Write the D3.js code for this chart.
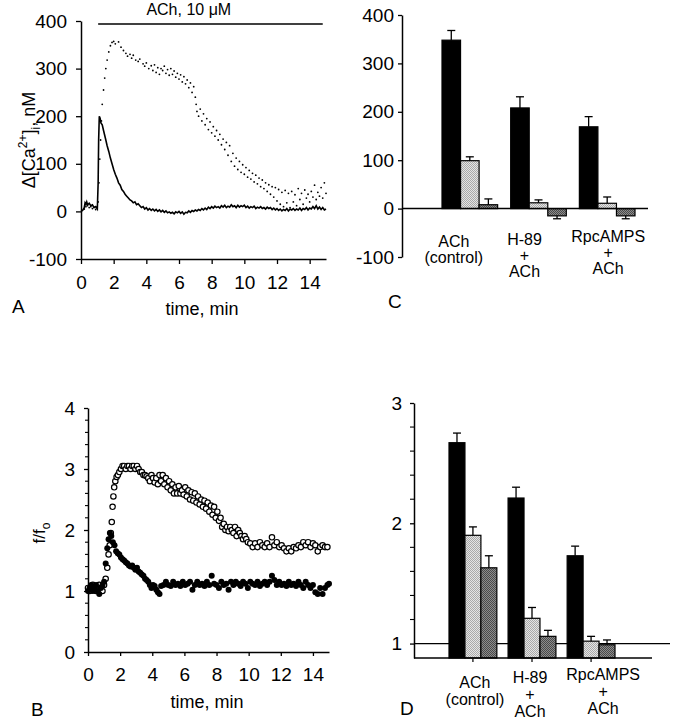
<!DOCTYPE html>
<html>
<head>
<meta charset="utf-8">
<script src="https://cdn.jsdelivr.net/npm/d3@7"></script>
<style>
  body { margin: 0; background: #fff; }
  svg { font-family: "Liberation Sans", Arial, sans-serif; }
</style>
</head>
<body>
<svg id="fig" width="673" height="720"></svg>
<script>
// ---- data ----

// panel A: delta [Ca2+]i in nM vs time (min)
var aSolid = [
  [0,0],[0.1,2],[0.2,8],[0.25,18],[0.3,15],[0.35,20],[0.4,14],[0.5,17],[0.6,12],[0.7,14],[0.8,8],[0.9,10],[1.0,5],
  [1.05,60],[1.08,150],[1.12,200],[1.17,196],[1.22,186],[1.3,182],[1.38,170],[1.45,160],[1.52,150],[1.6,138],
  [1.7,126],[1.8,112],[1.9,100],[2.0,88],[2.1,78],[2.2,70],[2.3,60],[2.4,55],[2.5,46],[2.6,42],[2.7,36],[2.8,32],
  [2.9,28],[3.0,24],[3.1,22],[3.2,18],[3.3,20],[3.4,14],[3.5,16],[3.6,12],[3.7,8],[3.8,10],[3.9,5],[4.0,8],
  [4.1,3],[4.2,6],[4.3,2],[4.4,5],[4.5,1],[4.6,4],[4.7,0],[4.8,3],[4.9,-1],[5.0,2],[5.1,-2],[5.2,1],[5.3,-3],
  [5.4,-1],[5.5,-4],[5.6,-2],[5.7,-5],[5.8,-1],[5.9,-3],[6.0,0],[6.1,-4],[6.2,-1],[6.3,-6],[6.4,-2],[6.5,-3],
  [6.6,1],[6.7,-2],[6.8,2],[6.9,0],[7.0,3],[7.1,1],[7.2,4],[7.3,2],[7.4,6],[7.5,3],[7.6,7],[7.7,4],[7.8,9],
  [7.9,6],[8.0,10],[8.1,7],[8.2,11],[8.3,8],[8.4,10],[8.5,7],[8.6,12],[8.7,9],[8.8,13],[8.9,8],[9.0,11],[9.1,9],
  [9.2,14],[9.3,10],[9.4,12],[9.5,8],[9.6,13],[9.7,9],[9.8,12],[9.9,10],[10.0,13],[10.1,8],[10.2,11],[10.3,7],
  [10.4,10],[10.5,8],[10.6,11],[10.7,6],[10.8,9],[10.9,7],[11.0,10],[11.1,6],[11.2,8],[11.3,5],[11.4,9],[11.5,6],
  [11.6,8],[11.7,4],[11.8,7],[11.9,3],[12.0,6],[12.1,2],[12.2,5],[12.3,1],[12.4,4],[12.5,2],[12.6,6],[12.7,1],
  [12.8,5],[12.9,3],[13.0,6],[13.1,2],[13.2,5],[13.3,3],[13.4,7],[13.5,2],[13.6,6],[13.7,4],[13.8,8],[13.9,3],
  [14.0,7],[14.1,5],[14.2,10],[14.3,6],[14.4,12],[14.5,5],[14.6,9],[14.7,4],[14.8,8],[14.9,3],[15.0,5]
];
var aDotted = [
  [0.2,5],[0.3,10],[0.4,12],[0.5,8],[0.6,10],[0.7,6],[0.8,9],[0.9,4],
  [1.05,20],[1.1,60],[1.15,110],[1.2,150],[1.25,190],[1.3,225],[1.38,255],[1.45,280],[1.52,300],[1.6,318],
  [1.7,335],[1.8,348],[1.9,355],[2.0,357],[2.1,352],[2.3,356],[2.45,345],[2.6,338],[2.75,332],[2.85,326],
  [3.0,330],[3.1,322],[3.2,328],[3.35,318],[3.5,315],[3.6,320],[3.8,310],[3.9,305],[4.0,312],[4.15,300],
  [4.3,306],[4.4,296],[4.5,308],[4.6,292],[4.7,302],[4.8,288],[4.9,300],[5.0,296],[5.1,305],[5.2,290],
  [5.3,298],[5.4,286],[5.5,300],[5.6,288],[5.7,295],[5.8,282],[5.9,290],[6.0,278],[6.1,287],[6.2,272],
  [6.3,283],[6.4,268],[6.5,276],[6.6,260],[6.7,270],[6.8,250],[6.9,262],[7.0,240],[7.05,225],[7.1,210],
  [7.2,200],[7.3,215],[7.4,190],[7.5,205],[7.6,182],[7.7,195],[7.8,172],[7.9,188],[8.0,165],[8.1,178],
  [8.2,158],[8.3,170],[8.4,150],[8.5,162],[8.6,140],[8.7,152],[8.8,130],[8.9,145],[9.0,118],[9.1,138],
  [9.2,105],[9.3,122],[9.4,95],[9.5,112],[9.6,88],[9.7,105],[9.8,82],[9.9,98],[10.0,78],[10.1,92],[10.2,72],
  [10.3,86],[10.4,68],[10.5,80],[10.6,62],[10.7,76],[10.8,58],[10.9,70],[11.0,52],[11.1,66],[11.2,48],
  [11.3,60],[11.4,42],[11.5,56],[11.6,36],[11.7,52],[11.8,30],[11.9,50],[12.0,22],[12.1,46],[12.2,15],
  [12.3,40],[12.4,10],[12.5,44],[12.6,18],[12.7,38],[12.8,8],[12.9,42],[13.0,20],[13.1,35],[13.2,12],
  [13.3,48],[13.4,25],[13.5,38],[13.6,15],[13.7,45],[13.8,28],[13.9,36],[14.0,20],[14.1,42],[14.2,30],
  [14.3,55],[14.4,25],[14.5,40],[14.6,32],[14.7,50],[14.8,28],[14.9,60],[15.0,38]
];
var aAchPeriod = [1.05, 14.8];
var aYTicks = [-100, 0, 100, 200, 300, 400];
var timeTicks = [0, 2, 4, 6, 8, 10, 12, 14];

// panel B: f/f0 vs time (min)
var bFilled = [
  [0,1.0],[0.1,1.05],[0.2,1.1],[0.3,1.0],[0.4,1.05],[0.5,1.1],[0.6,1.0],[0.7,0.95],[0.8,1.05],[0.9,1.1],
  [1.0,1.15],[1.1,1.45],[1.2,1.7],[1.28,1.85],[1.36,1.95],[1.45,1.9],[1.55,1.8],[1.65,1.75],[1.75,1.65],
  [1.85,1.62],[1.95,1.6],[2.05,1.55],[2.15,1.52],[2.25,1.5],[2.35,1.47],[2.45,1.45],[2.55,1.42],[2.65,1.4],
  [2.75,1.42],[2.85,1.38],[2.95,1.35],[3.05,1.38],[3.15,1.32],[3.25,1.3],[3.35,1.27],[3.45,1.25],[3.55,1.2],
  [3.65,1.18],[3.75,1.15],[3.85,1.1],[3.95,1.05],[4.05,1.1],[4.15,1.08],[4.25,1.02],[4.35,0.98],[4.45,0.95],
  [4.55,1.08],[4.7,1.1],[4.85,1.15],[5.0,1.1],[5.15,1.08],[5.3,1.15],[5.45,1.1],[5.6,1.12],[5.75,1.08],
  [5.9,1.15],[6.05,1.1],[6.2,1.12],[6.35,1.15],[6.5,1.02],[6.65,1.1],[6.8,1.15],[6.95,1.1],[7.1,1.12],
  [7.25,1.08],[7.4,1.15],[7.55,1.1],[7.7,1.25],[7.85,1.12],[8.0,1.1],[8.15,1.05],[8.3,1.15],[8.45,1.1],
  [8.6,1.12],[8.75,1.02],[8.9,1.15],[9.05,1.1],[9.2,1.15],[9.35,1.12],[9.5,1.08],[9.65,1.15],[9.8,1.12],
  [9.95,1.05],[10.1,1.15],[10.25,1.12],[10.4,1.1],[10.55,1.15],[10.7,1.08],[10.85,1.12],[11.0,1.15],
  [11.15,1.1],[11.3,1.15],[11.45,1.25],[11.6,1.18],[11.75,1.1],[11.9,1.15],[12.05,1.1],[12.2,1.12],
  [12.35,1.08],[12.5,1.15],[12.65,1.1],[12.8,1.12],[12.95,1.08],[13.1,1.15],[13.25,1.1],[13.4,1.05],
  [13.55,1.15],[13.7,1.1],[13.85,1.05],[14.0,1.1],[14.15,0.98],[14.3,0.95],[14.45,1.05],[14.6,0.95],
  [14.75,1.05],[14.9,1.1],[15.0,1.12]
];
var bOpen = [
  [0,1.05],[0.1,1.0],[0.2,1.05],[0.3,1.1],[0.4,1.05],[0.5,1.0],[0.6,1.05],[0.7,1.1],[0.8,1.05],[0.9,1.0],
  [1.0,1.1],[1.1,1.2],[1.2,1.38],[1.28,1.6],[1.35,1.75],[1.42,1.95],[1.48,2.13],[1.53,2.38],[1.58,2.55],
  [1.63,2.7],[1.7,2.8],[1.78,2.87],[1.86,2.9],[1.95,2.95],[2.05,3.0],[2.15,3.05],[2.25,3.05],[2.35,3.0],
  [2.45,3.05],[2.55,3.05],[2.65,3.0],[2.75,3.05],[2.85,3.05],[2.95,3.0],[3.05,3.05],[3.15,3.0],[3.25,2.95],
  [3.35,2.95],[3.45,2.9],[3.55,2.9],[3.65,2.88],[3.75,2.85],[3.85,2.8],[3.95,2.9],[4.05,2.85],[4.15,2.78],
  [4.25,2.85],[4.35,2.75],[4.45,2.9],[4.55,2.8],[4.65,2.9],[4.75,2.75],[4.85,2.85],[4.95,2.7],[5.05,2.8],
  [5.15,2.65],[5.25,2.75],[5.35,2.6],[5.45,2.7],[5.55,2.6],[5.65,2.72],[5.75,2.6],[5.85,2.65],[5.95,2.58],
  [6.05,2.7],[6.15,2.55],[6.25,2.65],[6.35,2.5],[6.45,2.62],[6.55,2.48],[6.65,2.6],[6.75,2.45],[6.85,2.55],
  [6.95,2.42],[7.05,2.5],[7.15,2.38],[7.25,2.48],[7.35,2.35],[7.45,2.45],[7.55,2.3],[7.65,2.4],[7.75,2.25],
  [7.85,2.38],[7.95,2.2],[8.05,2.3],[8.15,2.15],[8.25,2.2],[8.35,2.05],[8.45,2.1],[8.55,2.0],[8.65,2.05],
  [8.75,1.98],[8.85,2.05],[8.95,2.0],[9.05,1.95],[9.15,2.05],[9.25,1.9],[9.35,2.0],[9.45,1.95],[9.55,1.9],
  [9.65,1.85],[9.75,1.9],[9.85,1.85],[9.95,1.8],[10.1,1.78],[10.25,1.72],[10.4,1.78],[10.55,1.72],[10.7,1.8],
  [10.85,1.75],[11.0,1.72],[11.15,1.78],[11.3,1.72],[11.45,1.88],[11.6,1.75],[11.75,1.8],[11.9,1.72],
  [12.05,1.75],[12.2,1.7],[12.35,1.65],[12.5,1.7],[12.65,1.65],[12.8,1.72],[12.95,1.7],[13.1,1.75],
  [13.25,1.72],[13.4,1.8],[13.55,1.75],[13.7,1.8],[13.85,1.72],[14.0,1.78],[14.15,1.75],[14.3,1.65],
  [14.45,1.72],[14.6,1.75],[14.75,1.72],[14.9,1.72]
];
var bYTicks = [0, 1, 2, 3, 4];

// panels C and D: bar summaries, three bars per condition
var conditions = ["ACh (control)", "H-89 + ACh", "RpcAMPS + ACh"];
var conditionLines = [["ACh", "(control)"], ["H-89", "+", "ACh"], ["RpcAMPS", "+", "ACh"]];
var barSeries = ["peak", "mid", "late"];

var cPeak = [348, 208, 169];
var cPeakErr = [20, 23, 21];
var cMid = [99, 12, 11];
var cMidErr = [8, 6, 13];
var cLate = [8, -15, -15];
var cLateErr = [12, 6, 6];
var cYTicks = [-100, 0, 100, 200, 300, 400];

var dPeak = [2.67, 2.21, 1.73];
var dPeakErr = [0.08, 0.09, 0.08];
var dMid = [1.90, 1.21, 1.02];
var dMidErr = [0.07, 0.09, 0.04];
var dLate = [1.63, 1.06, 0.99];
var dLateErr = [0.10, 0.05, 0.04];
var dYTicks = [1, 2, 3];

// ---- drawing ----
var FONT = '"Liberation Sans", Arial, sans-serif';
var svg = d3.select("#fig");
var defs = svg.append("defs");
var intFmt = function(d) { return String(d); };   // plain hyphen minus, no decimals

// stippled fills for the grey bars
function stipple(id, a, b) {
  var p = defs.append("pattern")
      .attr("id", id)
      .attr("width", 2).attr("height", 2)
      .attr("patternUnits", "userSpaceOnUse");
  p.append("rect").attr("width", 2).attr("height", 2).attr("fill", a);
  p.append("rect").attr("width", 1).attr("height", 1).attr("fill", b);
  p.append("rect").attr("x", 1).attr("y", 1).attr("width", 1).attr("height", 1).attr("fill", b);
}
stipple("lightDots", "#e4e4e4", "#a9a9a9");
stipple("darkDots", "#8c8c8c", "#4a4a4a");
var seriesFill = { peak: "#000", mid: "url(#lightDots)", late: "url(#darkDots)" };

function styleAxis(g, size) {
  g.attr("font-size", size).attr("font-family", FONT);
  g.select(".domain").attr("stroke", "#000").attr("stroke-width", 1.5);
  g.selectAll(".tick line").attr("stroke", "#000").attr("stroke-width", 1.3);
  g.selectAll(".tick text").attr("fill", "#000");
}

function label(x, y, txt, size, anchor) {
  return svg.append("text")
      .attr("x", x).attr("y", y)
      .attr("text-anchor", anchor || "start")
      .attr("font-size", size)
      .attr("font-family", FONT)
      .text(txt);
}

function minorTicks(scale, x, values, len) {
  svg.append("g").selectAll("line")
    .data(values)
    .enter().append("line")
    .attr("x1", x - len).attr("x2", x)
    .attr("y1", function(d) { return scale(d); })
    .attr("y2", function(d) { return scale(d); })
    .attr("stroke", "#000").attr("stroke-width", 1.1);
}

// ===== Panel A =====
var xA = d3.scaleLinear().domain([0, 15]).range([81, 326]);
var yA = d3.scaleLinear().domain([-100, 400]).range([259, 21]);

svg.append("g")
    .attr("transform", "translate(0," + yA(-100) + ")")
    .call(d3.axisBottom(xA).tickValues(timeTicks).tickFormat(intFmt).tickSize(5).tickPadding(12).tickSizeOuter(0))
    .call(styleAxis, 19);
svg.append("g")
    .attr("transform", "translate(" + xA(0) + ",0)")
    .call(d3.axisLeft(yA).tickValues(aYTicks).tickFormat(intFmt).tickSize(5).tickPadding(9).tickSizeOuter(0))
    .call(styleAxis, 19);

// ACh application bar
svg.append("line")
    .attr("x1", xA(aAchPeriod[0])).attr("x2", xA(aAchPeriod[1]))
    .attr("y1", 24).attr("y2", 24)
    .attr("stroke", "#000").attr("stroke-width", 1.5);
label(xA(6.6), 15, "ACh, 10 \u03BCM", 16, "middle");

svg.append("g").selectAll("circle")
    .data(aDotted)
    .enter().append("circle")
    .attr("cx", function(d) { return xA(d[0]); })
    .attr("cy", function(d) { return yA(d[1]); })
    .attr("r", 0.9)
    .attr("fill", "#000");

svg.append("path")
    .datum(aSolid)
    .attr("fill", "none")
    .attr("stroke", "#000")
    .attr("stroke-width", 1.6)
    .attr("d", d3.line().x(function(d) { return xA(d[0]); }).y(function(d) { return yA(d[1]); }));

var aLabel = svg.append("text")
    .attr("transform", "translate(35,140) rotate(-90)")
    .attr("text-anchor", "middle")
    .attr("font-family", FONT)
    .attr("font-size", 18);
aLabel.append("tspan").text("\u0394[Ca");
aLabel.append("tspan").attr("dy", -8).attr("font-size", 12).text("2+");
aLabel.append("tspan").attr("dy", 8).text("]");
aLabel.append("tspan").attr("dy", 5).attr("font-size", 12).text("i");
aLabel.append("tspan").attr("dy", -5).text(", nM");

label(202, 315, "time, min", 18, "middle");
label(12, 313, "A", 19);

// ===== Panel B =====
var xB = d3.scaleLinear().domain([0, 15]).range([88, 329]);
var yB = d3.scaleLinear().domain([0, 4]).range([652, 408]);

minorTicks(yB, xB(0), [0.2,0.4,0.6,0.8,1.2,1.4,1.6,1.8,2.2,2.4,2.6,2.8,3.2,3.4,3.6,3.8], 3);
svg.append("g")
    .attr("transform", "translate(0," + yB(0) + ")")
    .call(d3.axisBottom(xB).tickValues(timeTicks).tickFormat(intFmt).tickSize(4).tickPadding(12).tickSizeOuter(0))
    .call(styleAxis, 19);
svg.append("g")
    .attr("transform", "translate(" + xB(0) + ",0)")
    .call(d3.axisLeft(yB).tickValues(bYTicks).tickFormat(intFmt).tickSize(4).tickPadding(9).tickSizeOuter(0))
    .call(styleAxis, 19);

svg.append("g").selectAll("circle")
    .data(bOpen)
    .enter().append("circle")
    .attr("cx", function(d) { return xB(d[0]); })
    .attr("cy", function(d) { return yB(d[1]); })
    .attr("r", 2.7)
    .attr("fill", "#fff")
    .attr("stroke", "#000")
    .attr("stroke-width", 1.2);
svg.append("g").selectAll("circle")
    .data(bFilled)
    .enter().append("circle")
    .attr("cx", function(d) { return xB(d[0]); })
    .attr("cy", function(d) { return yB(d[1]); })
    .attr("r", 3)
    .attr("fill", "#000");

var bLabel = svg.append("text")
    .attr("transform", "translate(45,533) rotate(-90)")
    .attr("text-anchor", "middle")
    .attr("font-family", FONT)
    .attr("font-size", 17);
bLabel.append("tspan").text("f/f");
bLabel.append("tspan").attr("dy", 5).attr("font-size", 12).text("o");

label(207, 708, "time, min", 18, "middle");
label(31, 716, "B", 19);

// ===== bar panels =====
function barPanel(opt) {
  var x0 = d3.scaleBand().domain(conditions).range(opt.xRange).paddingInner(0.19).paddingOuter(0);
  var x1 = d3.scaleBand().domain(barSeries).range([0, x0.bandwidth()]);
  var y = opt.y;

  var rows = [];
  conditions.forEach(function(c, i) {
    barSeries.forEach(function(s, j) {
      rows.push({ cond: c, series: s, value: opt.values[j][i], err: opt.errs[j][i] });
    });
  });

  svg.append("g").selectAll("rect")
    .data(rows)
    .enter().append("rect")
    .attr("x", function(d) { return x0(d.cond) + x1(d.series); })
    .attr("width", x1.bandwidth())
    .attr("y", function(d) { return Math.min(y(d.value), y(opt.base)); })
    .attr("height", function(d) { return Math.abs(y(d.value) - y(opt.base)); })
    .attr("fill", function(d) { return seriesFill[d.series]; })
    .attr("stroke", "#000")
    .attr("stroke-width", 1.2);

  // error bars (one-sided, away from the base)
  var eb = svg.append("g").attr("stroke", "#000").attr("stroke-width", 1.3);
  rows.forEach(function(d) {
    var cx = x0(d.cond) + x1(d.series) + x1.bandwidth() / 2;
    var sign = d.value >= opt.base ? 1 : -1;
    var yEnd = y(d.value + sign * d.err);
    eb.append("line").attr("x1", cx).attr("x2", cx).attr("y1", y(d.value)).attr("y2", yEnd);
    eb.append("line").attr("x1", cx - 4).attr("x2", cx + 4).attr("y1", yEnd).attr("y2", yEnd);
  });

  // condition labels (the figure sets them slightly off the group centres)
  conditions.forEach(function(c, i) {
    var t = svg.append("text")
        .attr("text-anchor", "middle")
        .attr("font-family", FONT)
        .attr("font-size", opt.labelSize);
    conditionLines[i].forEach(function(line, k) {
      t.append("tspan")
        .attr("x", x0(c) + x0.bandwidth() / 2 + opt.labelShift[i])
        .attr("y", opt.labelY[i] + k * opt.labelStep)
        .text(line);
    });
  });
  return x0;
}

// ===== Panel C =====
var yC = d3.scaleLinear().domain([-100, 400]).range([257, 15]);
svg.append("g")
    .attr("transform", "translate(402,0)")
    .call(d3.axisLeft(yC).tickValues(cYTicks).tickFormat(intFmt).tickSize(4).tickPadding(4).tickSizeOuter(0))
    .call(styleAxis, 19);
barPanel({
  xRange: [442, 635], y: yC, base: 0,
  values: [cPeak, cMid, cLate], errs: [cPeakErr, cMidErr, cLateErr],
  labelY: [247, 245, 242], labelStep: 16, labelSize: 16, labelShift: [-16, -14, 1]
});
svg.append("line")
    .attr("x1", 402).attr("x2", 648)
    .attr("y1", yC(0)).attr("y2", yC(0))
    .attr("stroke", "#000").attr("stroke-width", 1.5);
label(388, 308, "C", 19);

// ===== Panel D =====
var yD = d3.scaleLinear().domain([0.88, 3]).range([658, 403]);
minorTicks(yD, 414, [1.2, 1.4, 1.6, 1.8, 2.2, 2.4, 2.6, 2.8], 4);
svg.append("g")
    .attr("transform", "translate(414,0)")
    .call(d3.axisLeft(yD).tickValues(dYTicks).tickFormat(intFmt).tickSize(4).tickPadding(8).tickSizeOuter(0))
    .call(styleAxis, 19);
// reference line at f/f0 = 1, behind the bars
svg.append("line")
    .attr("x1", 414).attr("x2", 670)
    .attr("y1", yD(1)).attr("y2", yD(1))
    .attr("stroke", "#000").attr("stroke-width", 1.3);
var x0D = barPanel({
  xRange: [449, 615], y: yD, base: 0.88,
  values: [dPeak, dMid, dLate], errs: [dPeakErr, dMidErr, dLateErr],
  labelY: [688, 683, 680], labelStep: 17, labelSize: 16, labelShift: [2, -2, 12]
});
var dBottom = svg.append("g")
    .attr("transform", "translate(0," + yD(0.88) + ")")
    .call(d3.axisBottom(x0D).tickSize(4).tickFormat("").tickSizeOuter(0));
dBottom.select(".domain").attr("d", "M414,0H652").attr("stroke", "#000").attr("stroke-width", 1.5);
dBottom.selectAll(".tick line").attr("stroke", "#000").attr("stroke-width", 1.2);
label(400, 715, "D", 19);
</script>
</body>
</html>
